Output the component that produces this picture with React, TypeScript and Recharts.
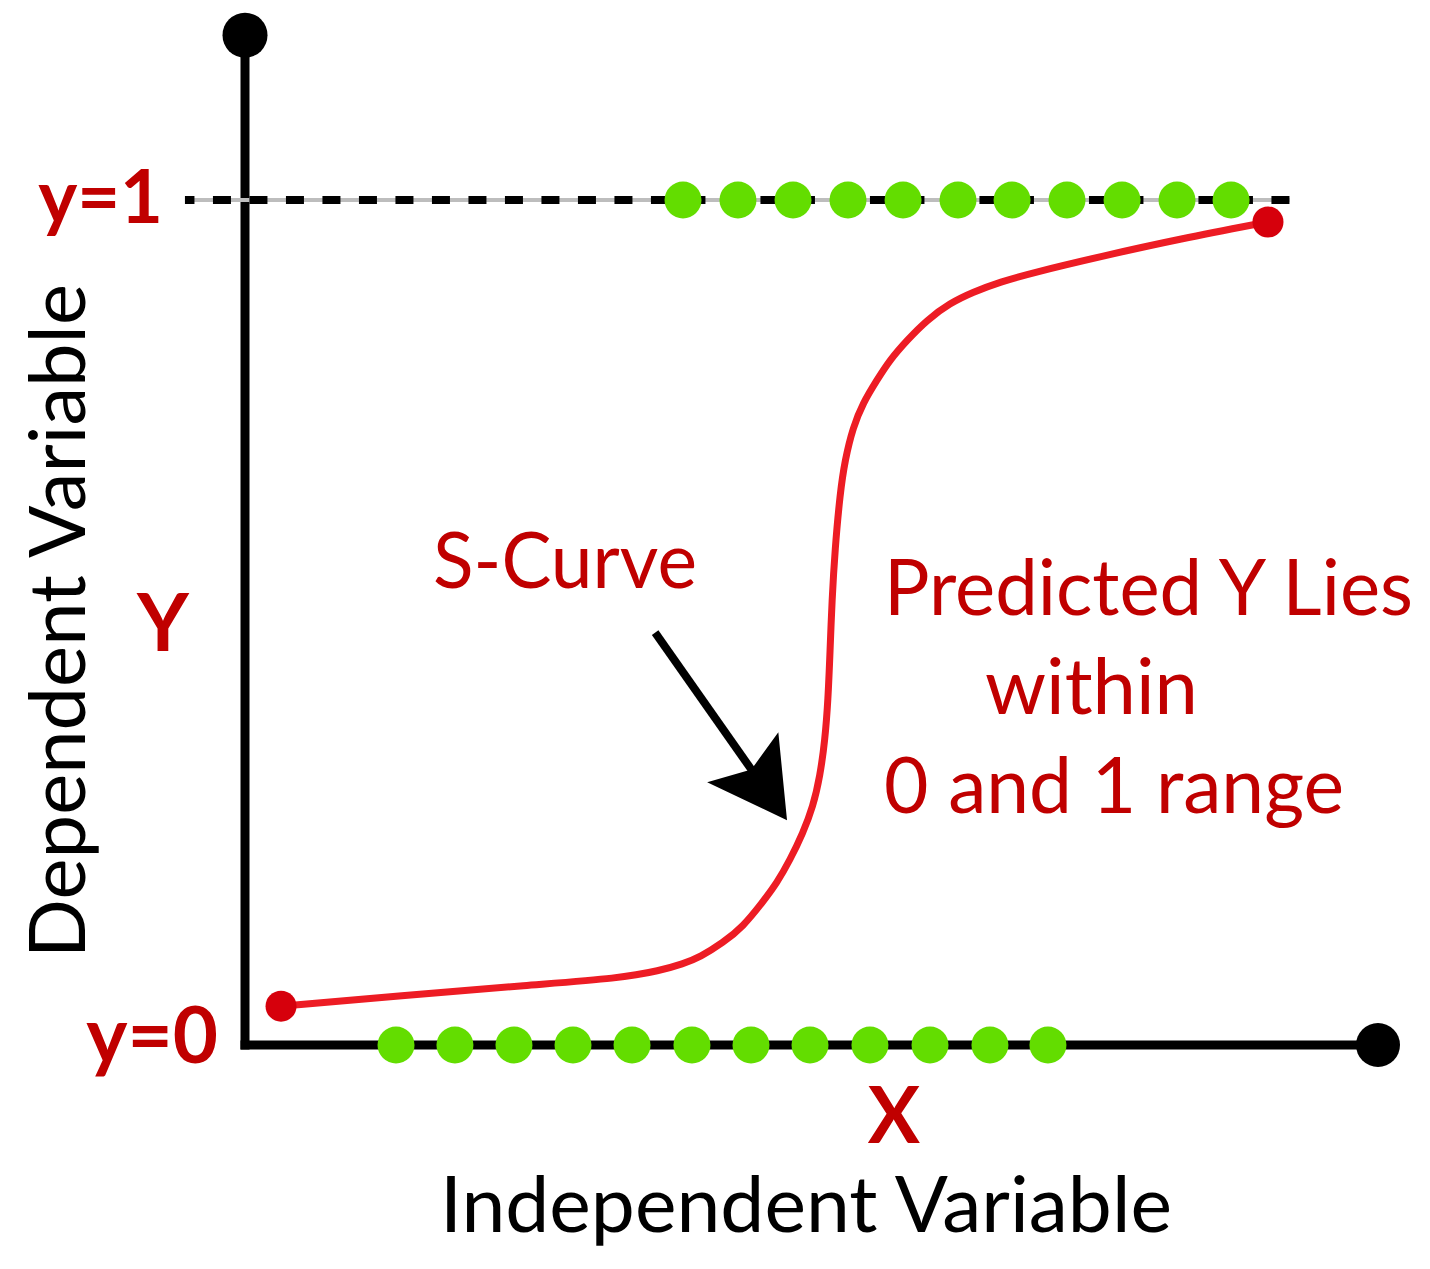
import React from 'react';
import {
  ComposedChart,
  Line,
  Scatter,
  XAxis,
  YAxis,
  ReferenceLine,
  ReferenceDot,
  Customized,
} from 'recharts';

// S-curve (predicted probability)
const curveX = [0.318, 1.368, 2.515, 3.310, 3.663, 3.866, 4.016, 4.219, 4.395, 4.563, 4.696, 4.810, 4.925, 5.013, 5.075, 5.119, 5.146, 5.164, 5.181, 5.207, 5.252, 5.295, 5.366, 5.455, 5.578, 5.693, 5.843, 6.019, 6.222, 6.425, 6.664, 6.955, 7.546, 8.252, 9.029];
const curveY = [0.046, 0.058, 0.071, 0.079, 0.088, 0.096, 0.104, 0.121, 0.140, 0.168, 0.192, 0.219, 0.251, 0.282, 0.318, 0.361, 0.408, 0.467, 0.527, 0.586, 0.653, 0.692, 0.731, 0.760, 0.787, 0.811, 0.834, 0.858, 0.878, 0.891, 0.903, 0.914, 0.933, 0.954, 0.974];

// observed points of class y=0 and class y=1
const classZeroX = [1.333, 1.853, 2.374, 2.895, 3.416, 3.945, 4.466, 4.987, 5.516, 6.046, 6.575, 7.087];
const classOneX = [3.866, 4.351, 4.837, 5.322, 5.808, 6.293, 6.770, 7.255, 7.741, 8.226, 8.703];

const xDomain = [0, 10];
const yDomain = [0, 1.2];
const yTicks = [0, 1];
const yTickLabels = ['y=0', 'y=1'];
const axisLabels = { x: 'X', y: 'Y', xTitle: 'Independent Variable', yTitle: 'Dependent Variable' };
const curveLabel = 'S-Curve';
const rangeNote = ['Predicted Y Lies', 'within', '0 and 1 range'];

const curveData = curveX.map((x, i) => ({ x, y: curveY[i] }));
const zeroData = classZeroX.map((x) => ({ x, y: yTicks[0] }));
const oneData = classOneX.map((x) => ({ x, y: yTicks[1] }));

const arrowStart = { x: 3.62, y: 0.488 };
const arrowTip = { x: 4.784, y: 0.266 };

const RED_TEXT = '#c00000';
const CURVE_RED = '#ed1c24';
const DOT_RED = '#d6000c';
const GREEN = '#63dd00';
const FONT = "Lato, 'Open Sans', sans-serif";

const GreenDot = (props: any) => {
  const { cx, cy } = props;
  if (cx == null || cy == null) return null;
  return <circle cx={cx} cy={cy} r={18.5} fill={GREEN} />;
};

const EndDot = (props: any) => {
  const { cx, cy, index } = props;
  if (index !== 0 && index !== curveData.length - 1) return <g key={`d${index}`} />;
  return <circle key={`d${index}`} cx={cx} cy={cy} r={15.5} fill={DOT_RED} />;
};

const ArrowShape = (props: any) => {
  const { x1, y1, x2, y2 } = props;
  const dx = x2 - x1;
  const dy = y2 - y1;
  const len = Math.sqrt(dx * dx + dy * dy);
  const ux = dx / len;
  const uy = dy / len;
  const px = -uy;
  const py = ux;
  const back = 77;
  const half = 43.5;
  const notch = 62;
  const bx = x2 - ux * back;
  const by = y2 - uy * back;
  const nx = x2 - ux * notch;
  const ny = y2 - uy * notch;
  const pts = [
    [x2, y2],
    [bx + px * half, by + py * half],
    [nx, ny],
    [bx - px * half, by - py * half],
  ]
    .map((p) => p.join(','))
    .join(' ');
  return (
    <g>
      <line x1={x1} y1={y1} x2={nx + ux * 4} y2={ny + uy * 4} stroke="#000" strokeWidth={8} />
      <polygon points={pts} fill="#000" />
    </g>
  );
};

const Annotations = () => (
  <g fontFamily={FONT}>
    <text x={163} y={223} textAnchor="end" fontSize={74} fontWeight={700} fill={RED_TEXT}>
      {yTickLabels[1]}
    </text>
    <text x={218} y={1063} textAnchor="end" fontSize={78} fontWeight={700} fill={RED_TEXT}>
      {yTickLabels[0]}
    </text>
    <text x={163} y={651} textAnchor="middle" fontSize={80} fontWeight={700} fill={RED_TEXT}>
      {axisLabels.y}
    </text>
    <text x={894} y={1143} textAnchor="middle" fontSize={78} fontWeight={700} fill={RED_TEXT}>
      {axisLabels.x}
    </text>
    <text x={440} y={1232} fontSize={78} fill="#000" textLength={732} lengthAdjust="spacingAndGlyphs">
      {axisLabels.xTitle}
    </text>
    <text
      transform="translate(85,958) rotate(-90)"
      x={0}
      y={0}
      fontSize={78}
      fill="#000"
      textLength={674}
      lengthAdjust="spacingAndGlyphs"
    >
      {axisLabels.yTitle}
    </text>
    <text x={433} y={588} fontSize={78} fill={RED_TEXT} textLength={264} lengthAdjust="spacingAndGlyphs">
      {curveLabel}
    </text>
    <text x={884} y={615} fontSize={77} fill={RED_TEXT} textLength={529} lengthAdjust="spacingAndGlyphs">
      {rangeNote[0]}
    </text>
    <text x={985} y={714} fontSize={77} fill={RED_TEXT} textLength={213} lengthAdjust="spacingAndGlyphs">
      {rangeNote[1]}
    </text>
    <text x={884} y={813} fontSize={77} fill={RED_TEXT} textLength={460} lengthAdjust="spacingAndGlyphs">
      {rangeNote[2]}
    </text>
  </g>
);

export default function App() {
  return (
    <div style={{ position: 'absolute', left: 0, top: 0, background: '#fff' }}>
      <ComposedChart
        width={1430}
        height={1269}
        margin={{ top: 31, right: 52, bottom: 224, left: 245 }}
      >
        <XAxis type="number" dataKey="x" domain={xDomain} hide />
        <YAxis type="number" dataKey="y" domain={yDomain} hide />
        {/* axes */}
        <ReferenceLine
          segment={[{ x: xDomain[0], y: yDomain[0] }, { x: xDomain[1], y: yDomain[0] }]}
          stroke="#000"
          strokeWidth={9}
          strokeLinecap="square"
          ifOverflow="visible"
        />
        <ReferenceLine
          segment={[{ x: xDomain[0], y: yDomain[0] }, { x: xDomain[0], y: 1.195 }]}
          stroke="#000"
          strokeWidth={9}
          strokeLinecap="square"
          ifOverflow="visible"
        />
        {/* y = 1 dashed guide */}
        <ReferenceLine
          segment={[{ x: -0.53, y: yTicks[1] }, { x: 9.22, y: yTicks[1] }]}
          stroke="#bdbdbd"
          strokeWidth={4}
          ifOverflow="visible"
        />
        <ReferenceLine
          segment={[{ x: -0.53, y: yTicks[1] }, { x: 9.22, y: yTicks[1] }]}
          stroke="#000"
          strokeWidth={8}
          strokeDasharray="18 18.5"
          strokeDashoffset={8.5}
          ifOverflow="visible"
        />
        <ReferenceDot x={xDomain[0]} y={1.195} r={22.5} fill="#000" stroke="none" ifOverflow="visible" />
        <ReferenceDot x={xDomain[1]} y={yDomain[0]} r={22} fill="#000" stroke="none" ifOverflow="visible" />
        <ReferenceLine
          segment={[arrowStart, arrowTip]}
          ifOverflow="visible"
          shape={(p: any) => <ArrowShape {...p} />}
        />
        <Line
          data={curveData}
          dataKey="y"
          type="basis"
          stroke={CURVE_RED}
          strokeWidth={7}
          dot={EndDot}
          activeDot={false}
          isAnimationActive={false}
        />
        <Scatter data={zeroData} dataKey="y" shape={GreenDot} isAnimationActive={false} />
        <Scatter data={oneData} dataKey="y" shape={GreenDot} isAnimationActive={false} />
        <Customized component={Annotations} />
      </ComposedChart>
    </div>
  );
}
